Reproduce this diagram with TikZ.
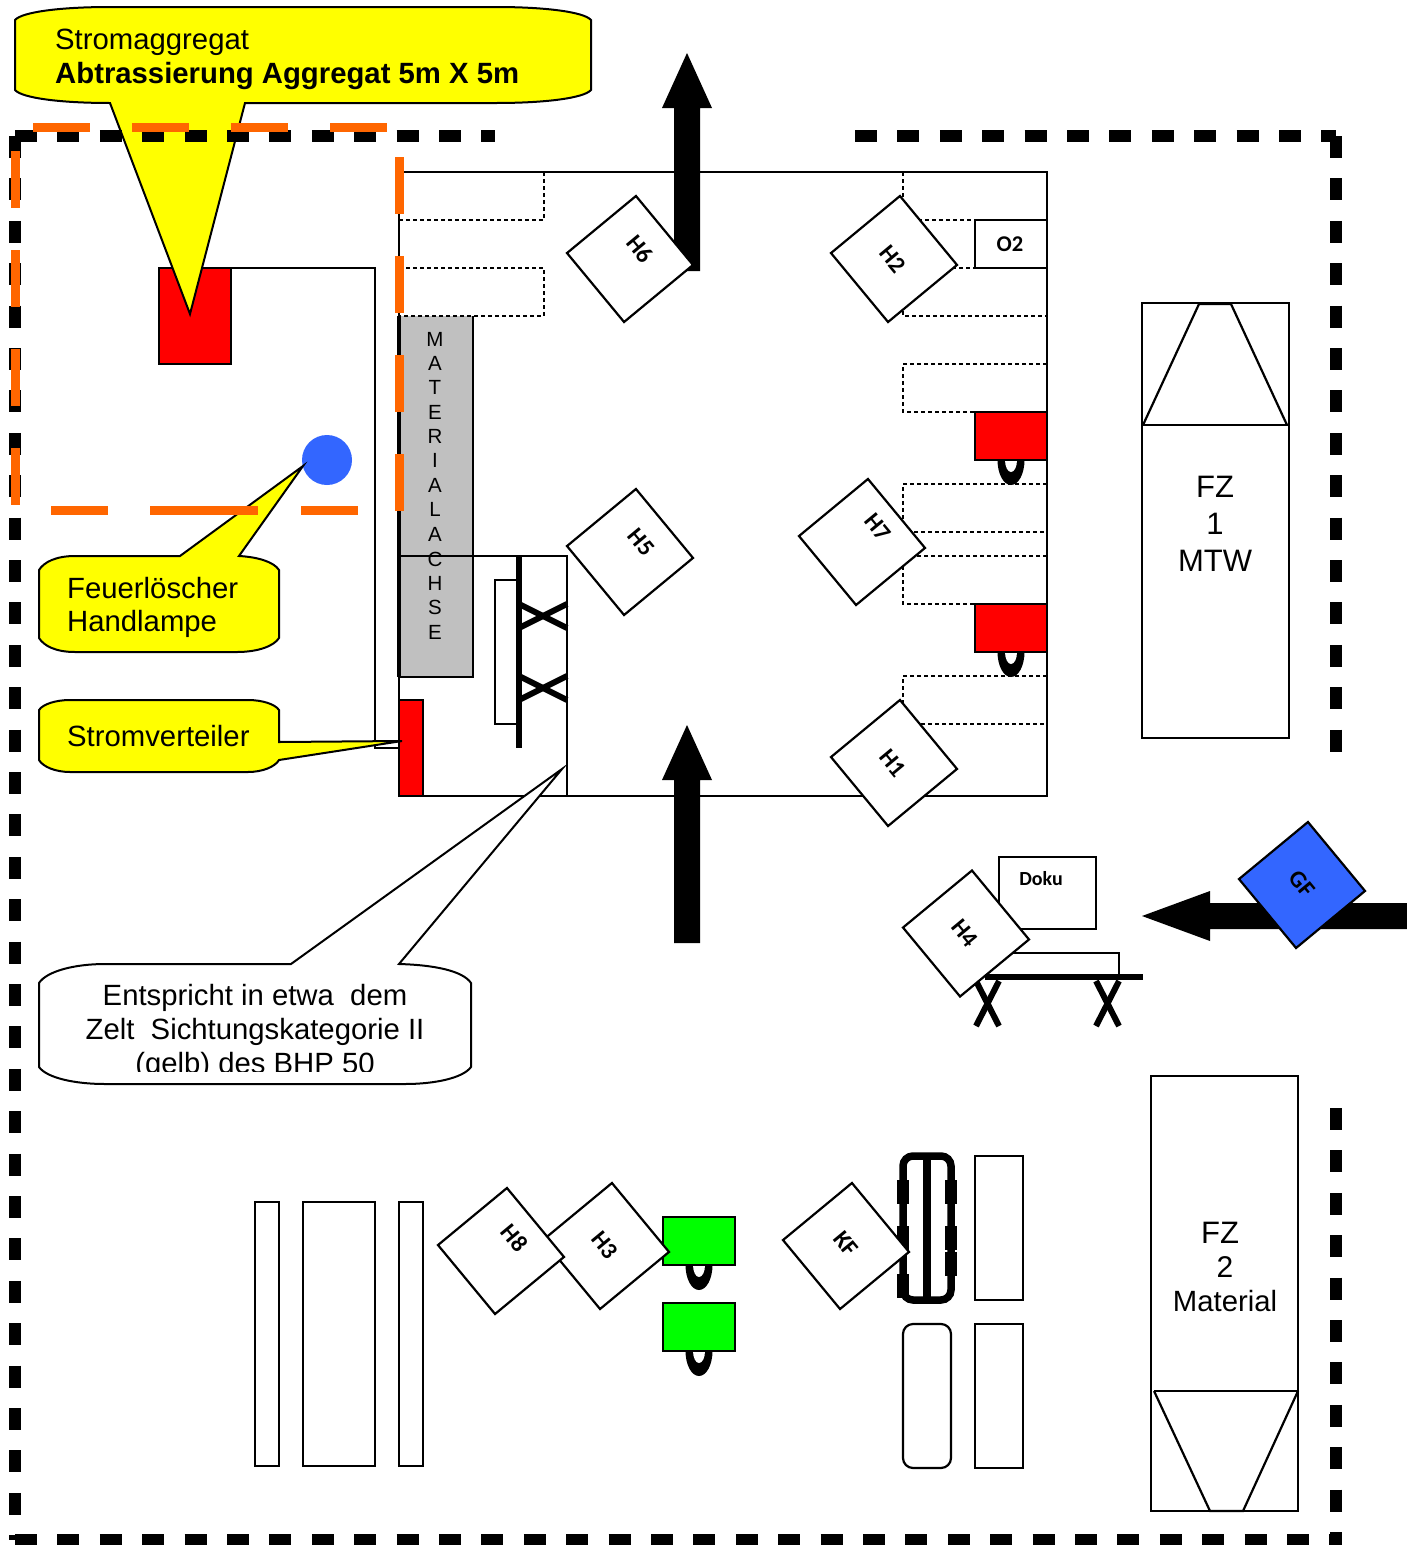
\documentclass[tikz,border=0pt]{standalone}
\usepackage{fontspec}
\setmainfont{Liberation Sans}
\newfontfamily\carl{Carlito}
\definecolor{oran}{HTML}{FF6600}
\definecolor{bluef}{HTML}{3366FF}
\definecolor{grayf}{HTML}{C0C0C0}
\definecolor{yel}{HTML}{FFFF00}
\definecolor{grn}{HTML}{00FF00}
\tikzset{
  wall/.style={draw=black,line width=2.8pt},
  thinbox/.style={draw=black,line width=2.2pt,fill=white},
  dots/.style={draw=black,line width=2.2pt,dash pattern=on 4pt off 3pt},
  bar/.style={draw=black,line width=6pt},
  border/.style={draw=black,line width=12.5pt,dash pattern=on 22pt off 20.4pt},
  orangedash/.style={draw=oran,line width=8.5pt,dash pattern=on 57pt off 42pt},
  orangeseg/.style={draw=oran,line width=8.5pt},
  redbox/.style={draw=black,line width=2.4pt,fill=red},
  greenbox/.style={draw=black,line width=2.4pt,fill=grn},
  bubble/.style={draw=black,line width=2pt,line join=miter},
  tagbox/.style={draw=black,line width=2.2pt,fill=white,rectangle,minimum size=89.5pt,inner sep=0pt,rotate=-50.4},
  taglabel/.style={font=\carl\bfseries\fontsize{24}{24}\selectfont,rotate=-50.4,inner sep=0pt},
  big/.style={font=\fontsize{29.3}{29.3}\selectfont,inner sep=0pt},
  fz/.style={font=\fontsize{31}{31}\selectfont,inner sep=0pt,anchor=base},
  letter/.style={font=\fontsize{20.5}{20.5}\selectfont,inner sep=0pt,anchor=base,text=black},
}
\newcommand{\hook}[2]{%
  \fill[black] (#1,#2) ellipse [x radius=13.5pt,y radius=25pt];
  \fill[white] (#1,#2) ellipse [x radius=6pt,y radius=12pt];
}
\begin{document}
\begin{tikzpicture}[x=1pt,y=-1pt]
\useasboundingbox (0,0) rectangle (1407,1545);
\fill[white] (0,0) rectangle (1407,1545);

% wire and generator
\draw[line width=2.2pt] (232,268) -- (375,268) -- (375,748) -- (399,748);
\draw[redbox] (159,268) rectangle (231,364);

% generator callout
\draw[bubble,fill=yel] (110,7) -- (496,7) .. controls (546,7) and (584,12) .. (591,20) -- (591,90)
  .. controls (584,98) and (546,103) .. (496,103) -- (245,103) -- (190,314) -- (110,103)
  .. controls (60,103) and (22,98) .. (15,90) -- (15,20) .. controls (22,12) and (60,7) .. (110,7) -- cycle;
\node[big,anchor=base west] (gen1) at (55,49) {Stromaggregat};
\node[big,anchor=base west,font=\bfseries\fontsize{29.3}{29.3}\selectfont] (gen2) at (55,83) {Abtrassierung Aggregat 5m X 5m};

% outer border
\draw[border] (15,1540) -- (1336,1540);
\draw[border] (15,136) -- (495,136);
\draw[border] (855,136) -- (1336,136);
\draw[border] (15,136) -- (15,1540);
\draw[border] (1336,136) -- (1336,752);
\draw[border] (1336,1108) -- (1336,1545);

% material
\fill[grayf] (399,316) rectangle (473,677);
\draw[line width=2.8pt] (473,316) -- (473,677) -- (399,677);
\draw[line width=4pt] (399,316) -- (399,677);
\foreach \n/\l/\y in {a/M/346,b/A/370,c/T/394,d/E/419,e/R/443,f/I/467,g/A/492,h/L/516,i/A/541,j/C/566,k/H/590,l/S/614,m/E/639}{
  \node[letter] (mat\n) at (435,\y) {\l};
}

% tent
\draw[wall] (399,172) rectangle (1047,796);
\draw[dots] (399,220) -- (544,220) -- (544,172);
\draw[dots] (399,268) -- (544,268) -- (544,316) -- (399,316);
\draw[dots] (903,172) -- (903,220) -- (1047,220);
\draw[dots] (903,268) -- (1047,268);
\draw[dots] (903,220) -- (903,316) -- (1047,316);
\draw[dots] (1047,364) -- (903,364) -- (903,412) -- (1047,412);
\draw[dots] (1047,484) -- (903,484) -- (903,532) -- (1047,532);
\draw[dots] (1047,556) -- (903,556) -- (903,604) -- (1047,604);
\draw[dots] (1047,676) -- (903,676) -- (903,724) -- (1047,724);
\draw[thinbox] (975,220) rectangle (1047,268);
\node[font=\carl\bfseries\fontsize{22.5}{22.5}\selectfont,inner sep=0pt] (otwo) at (1010,244) {O2};

\hook{1011}{460}
\draw[redbox] (975,412) rectangle (1047,460);
\hook{1011}{652}
\draw[redbox] (975,604) rectangle (1047,652);

% inner compartment
\draw[line width=2.4pt] (399,556) -- (567,556) -- (567,796);
\draw[thinbox] (495,580) rectangle (519,724);
\draw[bar] (519,556) -- (519,748);
\draw[bar] (519,604) -- (567,628);
\draw[bar] (519,628) -- (567,604);
\draw[bar] (519,676) -- (567,700);
\draw[bar] (519,700) -- (567,676);
\draw[redbox] (399,700) rectangle (423,796);

% arrows
\fill[black] (674,271) -- (674,108) -- (662,108) -- (687,53) -- (712,108) -- (700,108) -- (700,271) -- cycle;
\fill[black] (674,943) -- (674,780) -- (662,780) -- (687,725) -- (712,780) -- (700,780) -- (700,943) -- cycle;
\fill[black] (1407,903) -- (1210,903) -- (1210,891) -- (1142,916) -- (1210,941) -- (1210,929) -- (1407,929) -- cycle;

% orange marking
\draw[orangedash] (33,127.5) -- (387,127.5);
\draw[orangedash] (15.5,151) -- (15.5,505);
\draw[orangedash] (399.5,157) -- (399.5,511);

% extinguisher
\fill[bluef] (327,460) ellipse [x radius=25pt,y radius=25pt];
\draw[bubble,fill=yel] (75,556) -- (180,556) -- (303,466) -- (239,556)
  .. controls (258,557) and (274,562) .. (279,570) -- (279,638)
  .. controls (274,646) and (258,652) .. (237,652) -- (75,652)
  .. controls (56,652) and (44,646) .. (39,638) -- (39,570) .. controls (44,562) and (56,556) .. (75,556) -- cycle;
\node[big,anchor=base west] (ext1) at (67,598) {Feuerlöscher};
\node[big,anchor=base west] (ext2) at (67,631) {Handlampe};
\draw[orangeseg] (51,510.5) -- (108,510.5);
\draw[orangeseg] (150,510.5) -- (258,510.5);
\draw[orangeseg] (301,510.5) -- (358,510.5);

% distributor callout
\draw[bubble,fill=yel] (70,700) -- (248,700) .. controls (262,700) and (275,704) .. (279,710) -- (279,742) -- (402,741) -- (279,760)
  .. controls (275,767) and (262,772) .. (248,772) -- (70,772)
  .. controls (56,772) and (43,767) .. (39,760) -- (39,710) .. controls (43,704) and (56,700) .. (70,700) -- cycle;
\node[big,anchor=base west] (dist) at (67,746) {Stromverteiler};

% tent note
\draw[bubble,fill=white] (105,964) -- (291,964) -- (562,769) -- (399,964)
  .. controls (435,965) and (463,971) .. (471,983) -- (471,1067)
  .. controls (463,1078) and (435,1084) .. (405,1084) -- (105,1084)
  .. controls (75,1084) and (47,1078) .. (39,1067) -- (39,983) .. controls (47,971) and (75,964) .. (105,964) -- cycle;
\node[big,anchor=base] (note1) at (255,1005) {Entspricht in etwa\ \ dem};
\node[big,anchor=base] (note2) at (255,1039) {Zelt\ \ Sichtungskategorie II};
\begin{scope}
  \clip (39,1040) rectangle (471,1071);
  \node[big,anchor=base] (note3) at (255,1073) {(gelb) des BHP 50};
\end{scope}

% tags in tent
\node[tagbox] (tH6) at (630,259) {};
\node[taglabel] (lH6) at (640,249) {H6};
\node[tagbox] (tH2) at (894,259) {};
\node[taglabel] (lH2) at (893,259) {H2};
\node[tagbox] (tH5) at (630,552) {};
\node[taglabel] (lH5) at (641,542) {H5};
\node[tagbox] (tH7) at (862,542) {};
\node[taglabel] (lH7) at (878,527) {H7};
\node[tagbox] (tH1) at (894,763) {};
\node[taglabel] (lH1) at (893,763) {H1};

% vehicle 1
\draw[line width=2.4pt] (1142,303) rectangle (1289,738);
\draw[line width=2.2pt] (1142,425) -- (1289,425);
\draw[line width=2.2pt] (1143,425) -- (1199,304) -- (1231,304) -- (1287,425);
\node[fz] (fza) at (1215,497) {FZ};
\node[fz] (fzb) at (1215,534) {1};
\node[fz] (fzc) at (1215,571) {MTW};

% documentation table
\draw[thinbox] (999,857) rectangle (1096,929);
\node[font=\carl\bfseries\fontsize{20}{20}\selectfont,inner sep=0pt] (doku) at (1041,879) {Doku};
\draw[line width=2.2pt] (1000,953) -- (1119,953) -- (1119,976);
\draw[bar] (985,976.5) -- (1143,976.5);
\draw[bar] (976,981) -- (999,1026);
\draw[bar] (999,981) -- (976,1026);
\draw[bar] (1096,981) -- (1119,1026);
\draw[bar] (1119,981) -- (1096,1026);
\node[tagbox] (tH4) at (966,933.5) {};
\node[taglabel] (lH4) at (965,933) {H4};
\node[tagbox,fill=bluef] (tGF) at (1302,885) {};
\node[taglabel] (lGF) at (1302,884) {GF};

% left stack
\draw[thinbox] (255,1202) rectangle (279,1466);
\draw[thinbox] (303,1202) rectangle (375,1466);
\draw[thinbox] (399,1202) rectangle (423,1466);

% green units
\hook{699}{1265}
\draw[greenbox] (663,1217) rectangle (735,1265);
\hook{699}{1351}
\draw[greenbox] (663,1303) rectangle (735,1351);

\node[tagbox] (tH3) at (606,1246) {};
\node[taglabel] (lH3) at (605,1245) {H3};
\node[tagbox] (tH8) at (501,1251) {};
\node[taglabel] (lH8) at (515,1238) {H8};

% stretchers
\draw[line width=7.5pt,rounded corners=10pt] (903,1156) rectangle (951,1300);
\draw[line width=7.5pt] (927,1156) -- (927,1300);
\foreach \y in {1180,1226,1274}{\fill[black] (897,\y) rectangle (909,\y+24);}
\foreach \y in {1180,1226,1252}{\fill[black] (945,\y) rectangle (957,\y+24);}
\draw[thinbox] (975,1156) rectangle (1023,1300);
\draw[thinbox,rounded corners=10pt] (903,1324) rectangle (951,1468);
\draw[thinbox] (975,1324) rectangle (1023,1468);
\node[tagbox] (tKF) at (846,1246) {};
\node[taglabel] (lKF) at (846,1244) {KF};

% vehicle 2
\draw[line width=2.4pt] (1151,1076) rectangle (1298,1511);
\draw[line width=2.2pt] (1154,1391) -- (1299,1391);
\draw[line width=2.2pt] (1154,1391) -- (1210,1511) -- (1243,1511) -- (1298,1391);
\node[fz] (fzd) at (1220,1243) {FZ};
\node[fz,font=\fontsize{30}{30}\selectfont] (fze) at (1225,1277) {2};
\node[big,anchor=base] (fzf) at (1225,1311) {Material};
\end{tikzpicture}
\end{document}
